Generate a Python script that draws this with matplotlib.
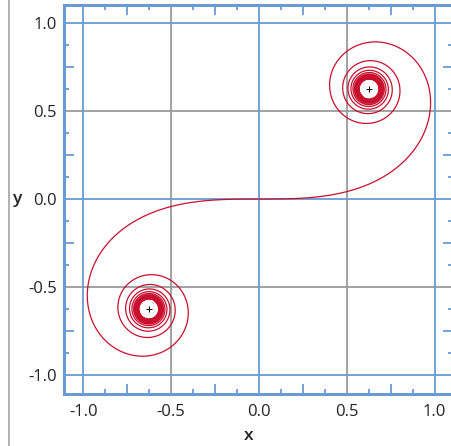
"""Euler (Cornu) spiral: x = int cos(s^2), y = int sin(s^2)."""
import numpy as np
import matplotlib
matplotlib.use("Agg")
import matplotlib.pyplot as plt
from matplotlib.lines import Line2D

plt.rcParams['font.family'] = ['Open Sans', 'DejaVu Sans']

# parameter range of the spiral and the two limit points
T_MAX = 9.0
N_PTS = 60001
LIMIT = np.sqrt(np.pi / 8)
centers_x = [LIMIT, -LIMIT]
centers_y = [LIMIT, -LIMIT]

tick_vals = [-1.0, -0.5, 0.0, 0.5, 1.0]
tick_labels = ["-1.0", "-0.5", "0.0", "0.5", "1.0"]
blue_grid = [-1.0, 0.0, 1.0]
gray_grid = [-0.5, 0.5]

BLUE = "#6a9ad6"
GRAY = "#9a9a9a"
RED = "#c8102e"

# Fresnel-type integrals by cumulative trapezoid from t=0
t = np.linspace(0, T_MAX, N_PTS)
dt = t[1] - t[0]
cx = np.concatenate([[0], np.cumsum((np.cos(t[1:] ** 2) + np.cos(t[:-1] ** 2)) / 2 * dt)])
cy = np.concatenate([[0], np.cumsum((np.sin(t[1:] ** 2) + np.sin(t[:-1] ** 2)) / 2 * dt)])
x = np.concatenate([-cx[::-1], cx[1:]])
y = np.concatenate([-cy[::-1], cy[1:]])

fig = plt.figure(figsize=(4.52, 4.46), dpi=100)
ax = fig.add_axes([64 / 452, 1 - 394 / 446, 389 / 452, 389 / 446])

for v in gray_grid:
    ax.axvline(v, color=GRAY, lw=1.3, zorder=1)
    ax.axhline(v, color=GRAY, lw=1.3, zorder=1)
for v in blue_grid:
    ax.axvline(v, color=BLUE, lw=1.3, zorder=1)
    ax.axhline(v, color=BLUE, lw=1.3, zorder=1)

ax.plot(x, y, color=RED, lw=0.9, zorder=3)
ax.plot(centers_x, centers_y, "+", color="black", ms=5, mew=0.7, zorder=4)

ax.set_xlim(-1.11, 1.105)
ax.set_ylim(-1.11, 1.105)

ax.set_xticks(tick_vals)
ax.set_xticklabels(tick_labels)
ax.set_yticks(tick_vals)
ax.set_yticklabels(tick_labels)
ax.set_xticks(np.arange(-1.0, 1.01, 0.25), minor=True)
ax.set_yticks(np.arange(-1.0, 1.01, 0.25), minor=True)
ax.tick_params(which="major", direction="in", length=0, labelsize=12,
               colors="#222222", top=True, right=True)
ax.tick_params(axis="x", which="major", pad=7)
ax.tick_params(axis="y", which="major", pad=5)
ax.tick_params(which="minor", direction="in", length=7, width=1.3,
               color=BLUE, top=True, right=True)

# eighth ticks (short), one secondary axis per side
eighths = np.arange(-0.875, 0.9, 0.25)
for side in ["top", "bottom"]:
    sec = ax.secondary_xaxis(side)
    sec.set_ticks(eighths)
    sec.tick_params(direction="in", length=3.5, width=1.3, color=BLUE,
                    labeltop=False, labelbottom=False)
    sec.spines[side].set_visible(False)
for side in ["left", "right"]:
    sec = ax.secondary_yaxis(side)
    sec.set_ticks(eighths)
    sec.tick_params(direction="in", length=3.5, width=1.3, color=BLUE,
                    labelleft=False, labelright=False)
    sec.spines[side].set_visible(False)

for sp in ax.spines.values():
    sp.set_color(BLUE)
    sp.set_linewidth(2.2)

fig.text(18 / 452, 1 - 199 / 446, "y", ha="center", va="center",
         fontsize=12.5, fontweight="semibold", color="#222222")
fig.text(249 / 452, 1 - 436 / 446, "x", ha="center", va="center",
         fontsize=12.5, fontweight="semibold", color="#222222")

fig.add_artist(Line2D([8.5 / 452, 8.5 / 452], [0, 1], color="#aaaaaa", lw=1.3))

fig.savefig("out.png", dpi=100)
